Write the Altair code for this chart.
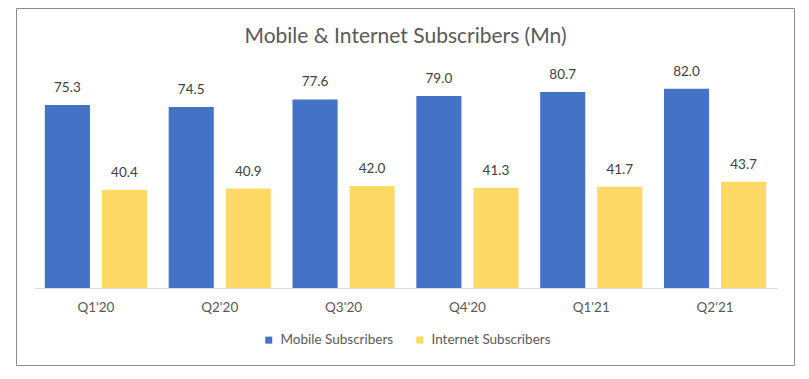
import altair as alt
import pandas as pd

quarters = ["Q1'20", "Q2'20", "Q3'20", "Q4'20", "Q1'21", "Q2'21"]
mobile = [75.3, 74.5, 77.6, 79.0, 80.7, 82.0]
internet = [40.4, 40.9, 42.0, 41.3, 41.7, 43.7]
series = ["Mobile Subscribers", "Internet Subscribers"]
colors = ["#4472C4", "#FFD966"]
title_text = "Mobile & Internet Subscribers (Mn)"

rows = []
for q, m, i in zip(quarters, mobile, internet):
    rows.append({"quarter": q, "series": series[0], "value": m})
    rows.append({"quarter": q, "series": series[1], "value": i})
df = pd.DataFrame(rows)

W, H = 743, 243
FONT = "Lato"

x = alt.X("quarter:N", sort=quarters,
          scale=alt.Scale(paddingInner=0.175, paddingOuter=0.0875),
          axis=alt.Axis(title=None, labelAngle=0, ticks=False, domainColor="#D9D9D9",
                        labelColor="#595959", labelFontSize=13.5, labelFont=FONT,
                        labelPadding=12, grid=False))
xo = alt.XOffset("series:N", sort=series,
                 scale=alt.Scale(paddingInner=0.21, paddingOuter=0))
y = alt.Y("value:Q", scale=alt.Scale(domain=[0, 100]), axis=None)

bars = alt.Chart(df).mark_bar().encode(
    x=x, xOffset=xo, y=y,
    color=alt.Color("series:N", sort=series,
                    scale=alt.Scale(domain=series, range=colors),
                    legend=alt.Legend(title=None, orient="none", direction="horizontal",
                                      legendX=228, legendY=288, padding=0,
                                      symbolType="square", symbolSize=49, symbolStrokeWidth=0,
                                      labelFontSize=13.5, labelColor="#595959", labelFont=FONT,
                                      columnPadding=19, labelOffset=5)),
)

labels = alt.Chart(df).mark_text(baseline="bottom", dy=-10, fontSize=13.5, color="#404040",
                                 font=FONT).encode(
    x=alt.X("quarter:N", sort=quarters), xOffset=alt.XOffset("series:N", sort=series),
    y="value:Q", text=alt.Text("value:Q", format=".1f"))

border = alt.Chart(pd.DataFrame({"a": [0]})).mark_rect(
    fill=None, stroke="#8C8C8C", strokeWidth=1, clip=False).encode(
    x=alt.value(-17.5), x2=alt.value(760.5), y=alt.value(-36.5), y2=alt.value(320.5))

title = alt.Chart(pd.DataFrame({"t": [title_text]})).mark_text(
    fontSize=21, font=FONT, color="#595959", baseline="alphabetic", align="center").encode(
    x=alt.value(W / 2), y=alt.value(-2), text="t:N")

chart = alt.layer(border, bars, labels, title).properties(
    width=W, height=H,
    autosize=alt.AutoSizeParams(type="none"),
    padding={"left": 26, "top": 37, "right": 21, "bottom": 90},
).configure_view(stroke=None)

chart.save("out.html", embed_options={"renderer": "svg", "actions": False})
